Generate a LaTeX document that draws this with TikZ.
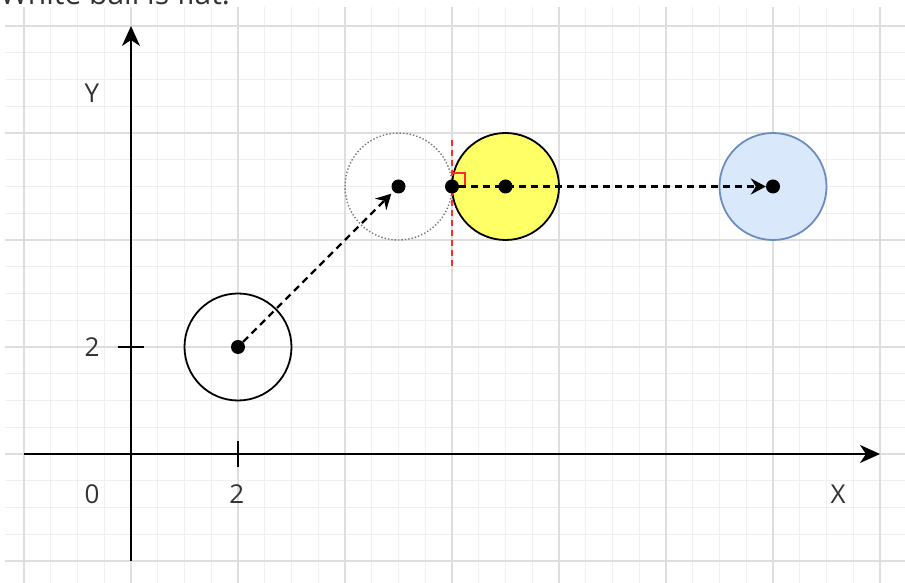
\documentclass[tikz,border=0pt]{standalone}
\usepackage{fontspec}
\setmainfont{Open Sans}
\usetikzlibrary{arrows.meta, positioning}
\definecolor{gridMinor}{HTML}{efefef}
\definecolor{gridMajor}{HTML}{dedede}
\definecolor{ballYellow}{HTML}{ffff66}
\definecolor{ballBlue}{HTML}{dae8fc}
\definecolor{ballBlueB}{HTML}{6c8ebf}
\definecolor{ghostB}{HTML}{7a7a7a}
\definecolor{normRed}{HTML}{ff2a2a}
\definecolor{txt}{HTML}{333333}

\begin{document}
\begin{tikzpicture}[x=53.5pt, y=53.5pt,
  ball/.style={circle, draw, line width=1.8pt, minimum size=107pt, inner sep=0pt},
  dot/.style={circle, fill=black, minimum size=14pt, inner sep=0pt},
  lbl/.style={font=\fontsize{26}{30}\selectfont, text=txt, inner sep=0pt},
  axis/.style={line width=2.3pt, -{Stealth[length=20pt, width=18pt, inset=6pt]}},
  axtick/.style={line width=2pt},
  move/.style={line width=2.3pt, dash pattern=on 7pt off 5pt, -{Stealth[length=15pt, width=16pt, inset=5pt]}}]
% canvas
\useasboundingbox (-2.4486,-2.4112) rectangle (14.4673,8.4860);
\clip (-2.4486,-2.4112) rectangle (14.4673,8.4860);
\node[lbl, font=\fontsize{30}{34}\selectfont, anchor=base west] (title) at (-2.4486,8.40) {White ball is flat.};
% grid
\begin{scope}
\clip (-2.355,-2.42) rectangle (14.47,8.355);
\draw[gridMinor, line width=1.2pt, step=0.5] (-3,-3) grid (15,9);
\draw[gridMajor, line width=1.5pt, step=2] (-4,-4) grid (16,10);
\end{scope}
% axes
\coordinate (xs) at (-2,0); \coordinate (xe) at (14,0);
\coordinate (ys) at (0,-2); \coordinate (ye) at (0,8);
\draw[axis] (xs) -- (xe);
\draw[axis] (ys) -- (ye);
\draw[axtick] (2,-0.25) -- (2,0.25);
\draw[axtick] (-0.25,2) -- (0.25,2);
\node[lbl] (ylbl) at (-0.729,6.75) {Y};
\node[lbl] (xlbl) at (13.215,-0.75) {X};
\node[lbl] (zero) at (-0.729,-0.75) {0};
\node[lbl] (xtwo) at (1.98,-0.75) {2};
\node[lbl] (ytwo) at (-0.729,2) {2};
% balls
\node[ball] (white) at (2,2) {};
\node[ball, draw=ghostB, line width=1.4pt, dotted] (ghost) at (5,5) {};
\node[ball, fill=ballYellow] (yellow) at (7,5) {};
\node[ball, fill=ballBlue, draw=ballBlueB] (blue) at (12,5) {};
% contact normal
\coordinate (nTop) at (6,5.87); \coordinate (nBot) at (6,3.44);
\draw[normRed, line width=1.6pt, dash pattern=on 6pt off 4pt] (nTop) -- (nBot);
\draw[normRed, line width=2pt] (6,5.25) -- (6.25,5.25) -- (6.25,5);
% centres
\node[dot] (pw) at (white) {};
\node[dot] (pg) at (ghost) {};
\node[dot] (pc) at (6,5) {};
\node[dot] (py) at (yellow) {};
\node[dot] (pb) at (blue) {};
\draw[move, shorten >=3pt] (pw) -- (pg);
\draw[move] (pc) -- (pb);
\end{tikzpicture}
\end{document}
